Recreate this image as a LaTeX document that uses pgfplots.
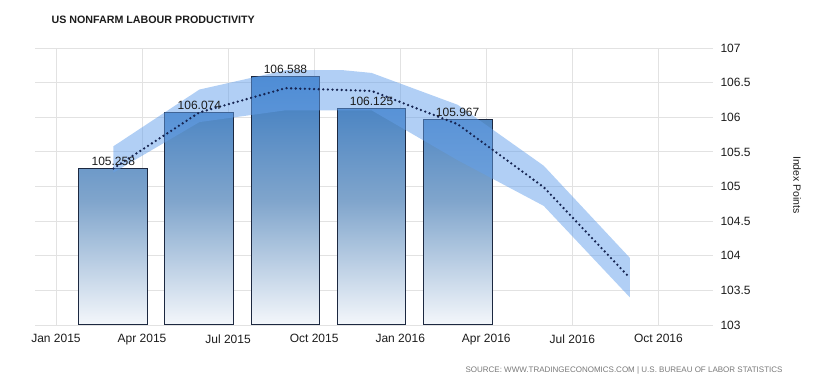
\documentclass[border=0pt]{standalone}
\usepackage{pgfplots}
\pgfplotsset{compat=1.18}
\usepackage{fontspec}
\setmainfont{Liberation Sans}
\definecolor{barTop}{RGB}{58,122,192}
\definecolor{barMid}{RGB}{128,165,204}
\definecolor{barBot}{RGB}{244,247,251}
\definecolor{barEdge}{RGB}{28,40,64}
\definecolor{band}{RGB}{100,160,235}
\definecolor{dotc}{RGB}{22,36,82}
\definecolor{gridc}{RGB}{226,226,226}
\definecolor{txt}{RGB}{28,28,28}
\begin{document}
\begin{tikzpicture}
\useasboundingbox (-35pt,-62pt) rectangle (796pt,325pt);
\begin{axis}[
  at={(0pt,0pt)}, anchor=south west,
  scale only axis, width=678pt, height=277pt,
  xmin=-0.73, xmax=22.9,
  ymin=0, ymax=4,
  y filter/.expression={y-103},
  xtick={0,3,6,9,12,15,18,21},
  xticklabels={Jan 2015,Apr 2015,Jul 2015,Oct 2015,Jan 2016,Apr 2016,Jul 2016,Oct 2016},
  ytick={0,0.5,1,1.5,2,2.5,3,3.5,4},
  yticklabels={103,103.5,104,104.5,105,105.5,106,106.5,107},
  yticklabel pos=right,
  grid=major, grid style={gridc, line width=0.8pt},
  axis line style={draw=none},
  major tick length=0pt,
  tick label style={font=\fontsize{12}{14}\selectfont, text=txt},
  xticklabel style={yshift=-6pt},
  yticklabel style={xshift=4pt, anchor=west},
  /pgf/number format/assume math mode=true,
  clip=true,
]
\addplot[ybar, bar width=2.4, draw=barEdge, line width=1pt,
  top color=barTop, bottom color=barBot, middle color=barMid,
  point meta=rawy,
  nodes near coords={\pgfmathprintnumber[fixed,precision=3,fixed zerofill,assume math mode=true]{\pgfplotspointmeta}},
  nodes near coords style={font=\fontsize{12}{14}\selectfont, text=txt, yshift=-1pt}]
  coordinates {(2,105.258) (5,106.074) (8,106.588) (11,106.125) (14,105.967)};
\addplot[fill=band, fill opacity=0.5, draw=none]
  coordinates {(2,105.20) (5,105.93) (8,106.10) (11,106.10) (14,105.38) (17,104.72) (20,103.40)
               (20,103.97) (17,105.30) (14,106.18) (11,106.64) (10,106.68) (8,106.68) (5,106.40) (2,105.58)} -- cycle;
\addplot[dotc, line width=2.6pt, line cap=round, dash pattern=on 0pt off 4.6pt, mark=none]
  coordinates {(2,105.26) (5,106.07) (8,106.42) (11,106.38) (14,105.90) (17,104.99) (20,103.68)};
\end{axis}
\node[anchor=west, text=txt, font=\bfseries\fontsize{10.7}{12}\selectfont] at (13pt,305pt) {US NONFARM LABOUR PRODUCTIVITY};
\node[anchor=east, text={rgb,255:red,120;green,120;blue,120}, font=\fontsize{8}{10}\selectfont] at (751pt,-45pt) {SOURCE: WWW.TRADINGECONOMICS.COM {\textbar} U.S. BUREAU OF LABOR STATISTICS};
\node[rotate=-90, text=txt, font=\fontsize{10.5}{12}\selectfont] at (762pt,140pt) {Index Points};
\end{tikzpicture}
\end{document}
